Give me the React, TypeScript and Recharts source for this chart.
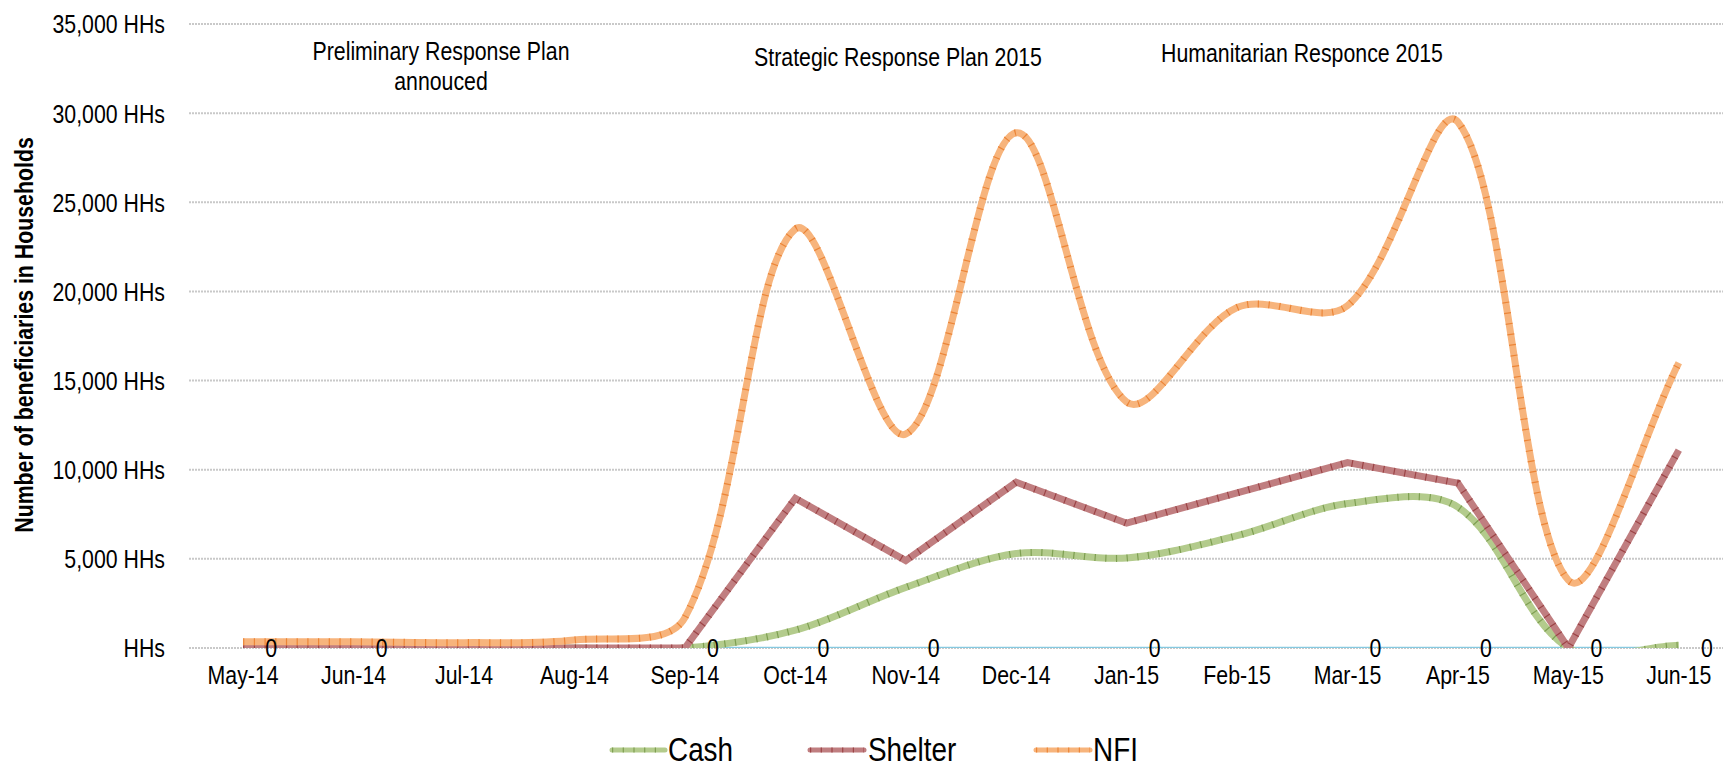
import React from "react";
import { LineChart, Line, XAxis, YAxis, CartesianGrid, LabelList } from "recharts";

const months = ["May-14", "Jun-14", "Jul-14", "Aug-14", "Sep-14", "Oct-14", "Nov-14", "Dec-14", "Jan-15", "Feb-15", "Mar-15", "Apr-15", "May-15", "Jun-15"];
const cashValues = [0, 0, 0, 0, 0, 1000, 3400, 5300, 5050, 6300, 8100, 7900, 0, 150];
const shelterValues = [0, 0, 0, 0, 0, 8400, 4900, 9300, 7000, 8700, 10400, 9250, 0, 11100];
const nfiValues = [350, 350, 300, 450, 1700, 23500, 12000, 28900, 13800, 19100, 19200, 29500, 3800, 16000];
const baselineValues = [0, 0, 0, 0, 0, 0, 0, 0, 0, 0, 0, 0, 0, 0];
const baselineLabels = ["0", "0", "", "", "0", "0", "0", "", "0", "", "0", "0", "0", "0"];
const yTicks = [0, 5000, 10000, 15000, 20000, 25000, 30000, 35000];
const yTickLabels = ["HHs", "5,000 HHs", "10,000 HHs", "15,000 HHs", "20,000 HHs", "25,000 HHs", "30,000 HHs", "35,000 HHs"];
const seriesNames = ["Cash", "Shelter", "NFI"];
const yTitle = "Number of beneficiaries in Households";
const annotations = ["Preliminary Response Plan", "annouced", "Strategic Response Plan 2015", "Humanitarian Responce 2015"];

const data = months.map((m, i) => ({
  idx: i,
  month: m,
  cash: cashValues[i],
  shelter: shelterValues[i],
  nfi: nfiValues[i],
  base: baselineValues[i],
  baseLabel: baselineLabels[i],
}));

const W = 1723;
const H = 769;
const FONT = "'Liberation Sans', Arial, sans-serif";
const NARROW = 0.82;

// Excel-like smoothed curve (Bezier with neighbour-based tangents, scaled by segment length)
function excelCurve(context: any) {
  let xs: number[] = [];
  let ys: number[] = [];
  return {
    areaStart() {},
    areaEnd() {},
    lineStart() {
      xs = [];
      ys = [];
    },
    point(x: number, y: number) {
      xs.push(+x);
      ys.push(+y);
    },
    lineEnd() {
      const n = xs.length;
      if (!n) return;
      context.moveTo(xs[0], ys[0]);
      if (n === 1) return;
      for (let i = 0; i < n - 1; i++) {
        const i0 = Math.max(0, i - 1);
        const i3 = Math.min(n - 1, i + 2);
        const x0 = xs[i0], y0 = ys[i0];
        const x1 = xs[i], y1 = ys[i];
        const x2 = xs[i + 1], y2 = ys[i + 1];
        const x3 = xs[i3], y3 = ys[i3];
        const d01 = Math.hypot(x1 - x0, y1 - y0);
        const d12 = Math.hypot(x2 - x1, y2 - y1);
        const d23 = Math.hypot(x3 - x2, y3 - y2);
        const f1 = d01 + d12 > 0 ? d12 / (d01 + d12) / 3 : 0;
        const f2 = d12 + d23 > 0 ? d12 / (d12 + d23) / 3 : 0;
        const c1x = x1 + (x2 - x0) * f1;
        const c1y = y1 + (y2 - y0) * f1;
        const c2x = x2 - (x3 - x1) * f2;
        const c2y = y2 - (y3 - y1) * f2;
        context.bezierCurveTo(c1x, c1y, c2x, c2y, x2, y2);
      }
    },
  };
}

const styles = {
  cash: { base: "#b3cb8c", tick: "#7e9f52" },
  shelter: { base: "#c07e80", tick: "#9c4446" },
  nfi: { base: "#f7b47c", tick: "#ec8537" },
};

// narrow (condensed) text helper: scales glyphs horizontally around the anchor
function NText(props: any) {
  const { x, y, rotate = 0, size = 26, anchor = "middle", dy = "0.35em", weight = "normal", children } = props;
  return (
    <text
      x={0}
      y={0}
      dy={dy}
      transform={`translate(${x},${y}) rotate(${rotate}) scale(${NARROW},1)`}
      textAnchor={anchor}
      fontSize={size}
      fontWeight={weight}
      fill="#000"
      fontFamily={FONT}
    >
      {children}
    </text>
  );
}

const XTick = (props: any) => {
  const { x, y, payload } = props;
  return <NText x={x} y={y} dy="0.71em" anchor="middle">{months[payload.value] ?? ""}</NText>;
};

const YTick = (props: any) => {
  const { x, y, payload } = props;
  return <NText x={x} y={y} dy="0.36em" anchor="end">{yTickLabels[yTicks.indexOf(payload.value)] ?? ""}</NText>;
};

const BaseLabel = (props: any) => {
  const { x, y, value } = props;
  if (!value) return null;
  return <NText x={x + 28} y={y} dy="0.36em" anchor="middle">{value}</NText>;
};

export default function App() {
  const legendItems = [
    { name: seriesNames[0], s: styles.cash, x1: 612, x2: 665, tx: 668 },
    { name: seriesNames[1], s: styles.shelter, x1: 810, x2: 864, tx: 868 },
    { name: seriesNames[2], s: styles.nfi, x1: 1036, x2: 1090, tx: 1093 },
  ];
  return (
    <div style={{ position: "fixed", left: 0, top: 0, width: W, height: H, overflow: "hidden", background: "#fff", fontFamily: FONT }}>
      <LineChart width={W} height={H} data={data} margin={{ top: 24, right: 0, bottom: 81, left: 0 }}>
        <CartesianGrid vertical={false} stroke="#c9c9c9" strokeWidth={2} strokeDasharray="2 1" />
        <XAxis
          type="number"
          dataKey="idx"
          domain={[-0.49, 13.4]}
          ticks={months.map((_, i) => i)}
          interval={0}
          allowDataOverflow
          axisLine={false}
          tickLine={false}
          tickSize={6}
          tickMargin={12}
          height={40}
          tick={XTick}
        />
        <YAxis
          domain={[0, 35000]}
          ticks={yTicks}
          interval={0}
          allowDataOverflow
          axisLine={false}
          tickLine={false}
          tickSize={6}
          tickMargin={18}
          width={189}
          tick={YTick}
        />
        <Line dataKey="base" stroke="#86c9e0" strokeWidth={2.5} dot={false} isAnimationActive={false} type="linear">
          <LabelList dataKey="baseLabel" content={BaseLabel} />
        </Line>
        <Line dataKey="cash" type={excelCurve as any} stroke={styles.cash.base} strokeWidth={7} dot={false} isAnimationActive={false} />
        <Line dataKey="cash" type={excelCurve as any} stroke={styles.cash.tick} strokeWidth={7} strokeDasharray="1.2 9.5" dot={false} isAnimationActive={false} />
        <Line dataKey="shelter" type="linear" stroke={styles.shelter.base} strokeWidth={7} dot={false} isAnimationActive={false} />
        <Line dataKey="shelter" type="linear" stroke={styles.shelter.tick} strokeWidth={7} strokeDasharray="1.2 9.5" dot={false} isAnimationActive={false} />
        <Line dataKey="nfi" type={excelCurve as any} stroke={styles.nfi.base} strokeWidth={7} dot={false} isAnimationActive={false} />
        <Line dataKey="nfi" type={excelCurve as any} stroke={styles.nfi.tick} strokeWidth={7} strokeDasharray="1.2 9.5" dot={false} isAnimationActive={false} />
      </LineChart>
      <svg width={W} height={H} style={{ position: "absolute", left: 0, top: 0, pointerEvents: "none" }}>
        <NText x={24} y={335} rotate={-90} weight="bold" anchor="middle">{yTitle}</NText>
        <NText x={441} y={51}>{annotations[0]}</NText>
        <NText x={441} y={81}>{annotations[1]}</NText>
        <NText x={898} y={57}>{annotations[2]}</NText>
        <NText x={1302} y={53}>{annotations[3]}</NText>
        {legendItems.map((it) => (
          <g key={it.name}>
            <line x1={it.x1} x2={it.x2} y1={750} y2={750} stroke={it.s.base} strokeWidth={5} strokeLinecap="round" />
            <line x1={it.x1} x2={it.x2} y1={750} y2={750} stroke={it.s.tick} strokeWidth={5} strokeDasharray="1.2 9.5" />
            <NText x={it.tx} y={761} dy="0" size={34} anchor="start">{it.name}</NText>
          </g>
        ))}
      </svg>
    </div>
  );
}
